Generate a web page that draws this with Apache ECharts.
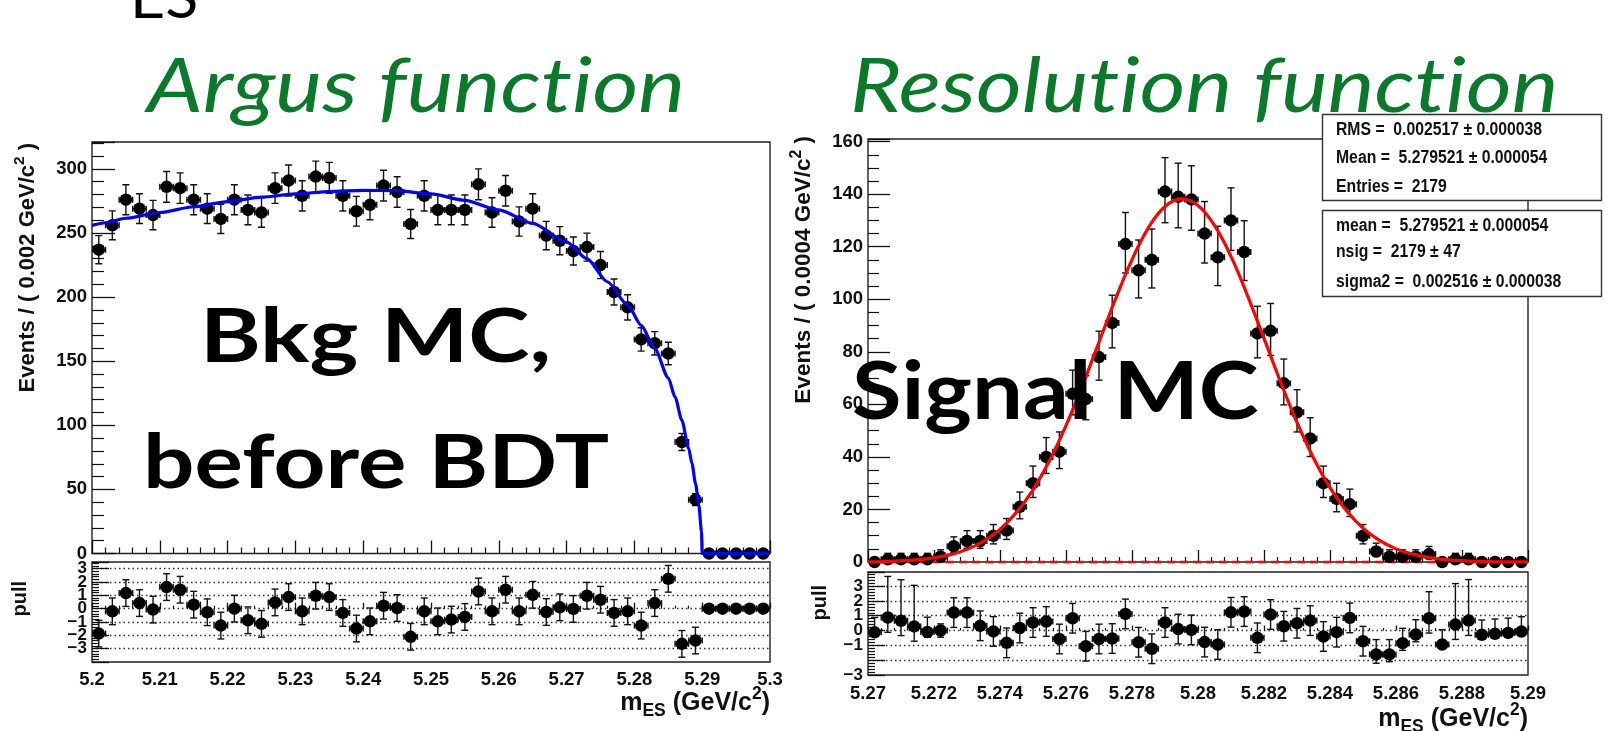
<!DOCTYPE html>
<html>
<head>
<meta charset="utf-8">
<script src="https://cdn.jsdelivr.net/npm/echarts@6/dist/echarts.min.js"></script>
<style>
  html, body { margin: 0; padding: 0; background: #fff; }
  #main { width: 1611px; height: 731px; }
</style>
</head>
<body>
<div id="main"></div>
<script>
// ---- background MC (Argus fit), 50 bins of 0.002 ----
const bkgX = [5.201,5.203,5.205,5.207,5.209,5.211,5.213,5.215,5.217,5.219,5.221,5.223,5.225,5.227,5.229,5.231,5.233,5.235,5.237,5.239,
  5.241,5.243,5.245,5.247,5.249,5.251,5.253,5.255,5.257,5.259,5.261,5.263,5.265,5.267,5.269,5.271,5.273,5.275,5.277,5.279,
  5.281,5.283,5.285,5.287,5.289,5.291,5.293,5.295,5.297,5.299]
const bkgY = [237,256,276,269,264,286,285,276,269,261,276,268,266,285,291,279,294,293,279,267,
  272,287,282,257,279,268,268,268,288,266,283,259,269,248,244,236,239,225,204,192,
  167,164,156,87,42,0,0,0,0,0]
const bkgErr = [11,11.3,11.7,11.6,11.5,12,11.9,11.7,11.6,11.4,11.7,11.6,11.5,11.9,12.1,11.8,12.1,12.1,11.8,11.6,
  11.7,12,11.9,11.3,11.8,11.6,11.6,11.6,12,11.5,11.9,11.4,11.6,11.1,11,10.9,10.9,10.6,10.1,9.8,
  9.1,9.1,8.8,6.6,4.6,0,0,0,0,0]
const bkgHalfBin = 0.001
const bkgPull = [-1.87,-0.2,1.17,0.42,-0.07,1.62,1.42,0.3,-0.27,-1.27,0,-0.87,-1.14,0.47,0.87,-0.2,0.97,0.87,-0.32,-1.49,
  -0.95,0.22,0.05,-2.11,-0.2,-0.95,-0.82,-0.62,1.29,-0.2,1.42,-0.2,1.04,-0.25,0.1,-0.02,0.97,0.67,-0.32,-0.2,
  -1.27,0.42,2.24,-2.64,-2.39,0,0,0,0,0]
const bkgPullErr = [1,1,1,1,1,1,1,1,1,1,1,1,1,1,1,1,1,1,1,1,1,1,1,1,1,1,1,1,1,1,1,1,1,1,1,1,1,1,1,1,1,1,1,1,1,0,0,0,0,0]
const bkgCurveX = [5.2,5.202,5.205,5.21,5.215,5.22,5.225,5.23,5.235,5.24,5.245,5.25,5.255,5.26,5.265,5.27,5.273,5.276,5.279,5.281,
  5.283,5.285,5.286,5.287,5.288,5.2885,5.289,5.2895,5.2899,5.29,5.3]
const bkgCurveY = [256,258,261.5,266,270.5,274.5,278,280.5,282.3,283.3,283,280.5,275.5,268,257.5,243,230,212,194,178,
  160,137,122,104,82,70,55,38,17,0,0]

// ---- signal MC (Gaussian fit), 50 bins of 0.0004 ----
const sigX = [5.2702,5.2706,5.2710,5.2714,5.2718,5.2722,5.2726,5.2730,5.2734,5.2738,5.2742,5.2746,5.2750,5.2754,5.2758,5.2762,5.2766,5.2770,5.2774,5.2778,
  5.2782,5.2786,5.2790,5.2794,5.2798,5.2802,5.2806,5.2810,5.2814,5.2818,5.2822,5.2826,5.2830,5.2834,5.2838,5.2842,5.2846,5.2850,5.2854,5.2858,
  5.2862,5.2866,5.2870,5.2874,5.2878,5.2882,5.2886,5.2890,5.2894,5.2898]
const sigY = [0,1,1,1,1,2,6,8,8,10,12,21,30,40,42,64,62,78,91,121,
  111,115,141,139,138,125,116,130,118,87,88,68,57,47,30,24,22,10,4,2,
  2,2,3,0,1,1,0,0,0,0]
const sigErrLo = [0,0.83,0.83,0.83,0.83,1.29,2.38,2.77,2.77,3.11,3.41,4.55,5.44,6.29,6.45,7.98,7.86,8.8,9.5,10.98,
  10.5,10.7,11.87,11.8,11.75,11.2,10.8,11.4,10.86,9.3,9.4,8.2,7.5,6.85,5.44,4.88,4.67,3.11,1.91,1.29,
  1.29,1.29,1.63,0,0.83,0.83,0,0,0,0]
const sigErrHi = [1.15,2.3,2.3,2.3,2.3,2.64,3.58,3.94,3.94,4.26,4.55,5.62,6.51,7.35,7.5,9.03,8.9,9.85,10.55,12.03,
  11.55,11.75,12.9,12.8,12.8,12.2,11.8,12.4,11.9,10.35,10.4,9.25,8.6,7.9,6.51,5.95,5.74,4.26,3.16,2.64,
  2.64,2.64,2.92,1.15,2.3,2.3,1.15,1.15,1.15,1.15]
const sigHalfBin = 0.0002
const sigPull = [-0.12,0.88,0.66,0.28,-0.1,0,1.21,1.21,0.32,-0.06,-0.83,0.17,0.54,0.61,-0.57,0.83,-1.06,-0.57,-0.54,1.12,
  -0.79,-1.23,0.54,0.1,0.04,-0.78,-0.94,1.23,1.28,-0.49,1.08,0.29,0.49,0.67,-0.4,-0.11,0.85,-0.72,-1.61,-1.61,
  -0.85,-0.27,0.83,-0.94,0.4,0.67,-0.29,-0.22,-0.16,-0.07]
const sigPullLo = [0,1,1,1,0.36,0.45,1,1,1,1,1,1,1,1,1,1,1,1,1,1,
  1,1,1,1,1,1,1,1,1,1,1,1,1,1,1,1,1,1,0.6,0.49,
  0.49,0.49,1,0,1,1,0,0,0,0]
const sigPullHi = [1,2.77,2.77,2.77,1,0.45,1,1,1,1,1,1,1,1,1,1,1,1,1,1,
  1,1,1,1,1,1,1,1,1,1,1,1,1,1,1,1,1,1,1,1,
  1,1,1.79,1,2.77,2.77,1,1,1,1]
const sigCurveX = [5.2700,5.2705,5.2710,5.2715,5.2720,5.2725,5.2730,5.2735,5.2740,5.2745,5.2750,5.2755,5.2760,5.2765,5.2770,5.2775,5.2780,5.2785,5.2790,5.2795,
  5.2800,5.2805,5.2810,5.2815,5.2820,5.2825,5.2830,5.2835,5.2840,5.2845,5.2850,5.2855,5.2860,5.2865,5.2870,5.2875,5.2880,5.2885,5.2890,5.2895,5.2900]
const sigCurveY = [0.1,0.2,0.5,0.9,1.6,2.8,4.8,7.9,12.4,18.9,27.5,38.5,51.9,67.2,83.7,100.1,115.1,127.3,135.3,138.2,
  135.7,128.1,116.3,101.4,85.1,68.6,53.1,39.6,28.3,19.5,12.9,8.2,5.0,3.0,1.7,0.9,0.5,0.2,0.1,0.05,0.02]

const statsLines = ['RMS =  0.002517 \u00b1 0.000038', 'Mean =  5.279521 \u00b1 0.000054', 'Entries =  2179']
const fitLines = ['mean =  5.279521 \u00b1 0.000054', 'nsig =  2179 \u00b1 47', 'sigma2 =  0.002516 \u00b1 0.000038']

const chart = echarts.init(document.getElementById('main'))

const INK = '#111'
const LABEL_FONT = 'Liberation Sans'
const GREEN = '#0a7a2a'

function renderErr(params, api) {
  const x = api.value(0), y = api.value(1)
  const lo = api.value(2), hi = api.value(3), hw = api.value(4)
  const c = api.coord([x, y])
  const t = api.coord([x, y + hi])
  const b = api.coord([x, y - lo])
  const l = api.coord([x - hw, y])
  const r = api.coord([x + hw, y])
  const st = { stroke: INK, lineWidth: 1.4 }
  const kids = []
  if (hi > 0 || lo > 0) {
    kids.push({ type: 'line', shape: { x1: c[0], y1: t[1], x2: c[0], y2: b[1] }, style: st })
    if (hi > 0) kids.push({ type: 'line', shape: { x1: c[0] - 3.5, y1: t[1], x2: c[0] + 3.5, y2: t[1] }, style: st })
    if (lo > 0) kids.push({ type: 'line', shape: { x1: c[0] - 3.5, y1: b[1], x2: c[0] + 3.5, y2: b[1] }, style: st })
  }
  kids.push({ type: 'line', shape: { x1: l[0], y1: c[1], x2: r[0], y2: c[1] }, style: st })
  kids.push({ type: 'line', shape: { x1: l[0], y1: c[1] - 3, x2: l[0], y2: c[1] + 3 }, style: st })
  kids.push({ type: 'line', shape: { x1: r[0], y1: c[1] - 3, x2: r[0], y2: c[1] + 3 }, style: st })
  return { type: 'group', children: kids }
}

function xFmt(v) { return String(parseFloat(v.toFixed(4))) }
function pullFmt(v) {
  const r = Math.round(v)
  if (Math.abs(v - r) > 1e-6 || r < -3 || r > 3) return ''
  return r < 0 ? '\u2212' + (-r) : String(r)
}

function xAxis(gridIndex, min, max, interval, tickLen, minorLen, showLabel, margin) {
  return {
    type: 'value', gridIndex, min, max, interval,
    axisLine: { show: false },
    axisTick: { show: true, inside: true, length: tickLen, lineStyle: { color: INK, width: 1.3 } },
    minorTick: { show: true, splitNumber: 5, length: minorLen, lineStyle: { color: INK, width: 1.2 } },
    splitLine: { show: false },
    axisLabel: { show: showLabel, margin, formatter: xFmt, showMinLabel: true, showMaxLabel: true,
      color: INK, fontSize: 18.5, fontWeight: 'bold', fontFamily: LABEL_FONT }
  }
}
function yAxis(gridIndex, min, max, interval, split, tickLen, minorLen, fmt, grid) {
  return {
    type: 'value', gridIndex, min, max, interval,
    axisLine: { show: false },
    axisTick: { show: true, inside: true, length: tickLen, lineStyle: { color: INK, width: 1.3 } },
    minorTick: { show: true, splitNumber: split, length: minorLen, lineStyle: { color: INK, width: 1.2 } },
    splitLine: grid ? { show: true, showMinLine: false, showMaxLine: false, lineStyle: { color: '#333', width: 1.3, type: [1.5, 3] } } : { show: false },
    axisLabel: { margin: 5, formatter: fmt, showMinLabel: true, showMaxLabel: true,
      color: INK, fontSize: grid ? 17 : 18.5, fontWeight: 'bold', fontFamily: LABEL_FONT }
  }
}

const frame = { show: true, borderColor: '#222', borderWidth: 1.4, backgroundColor: 'transparent', outerBoundsMode: 'none' }

function errSeries(xi, yi, rows) {
  return { type: 'custom', xAxisIndex: xi, yAxisIndex: yi, renderItem: renderErr, data: rows, clip: true, z: 2, silent: true }
}
function dotSeries(xi, yi, pts) {
  return { type: 'scatter', xAxisIndex: xi, yAxisIndex: yi, data: pts, symbol: 'circle', symbolSize: 12.5,
    itemStyle: { color: '#000', opacity: 1 }, z: 4, silent: true }
}

function richText(size) {
  return {
    a: { fontSize: size, fontWeight: 'bold', fontFamily: LABEL_FONT, fill: INK, lineHeight: size * 1.4 },
    s: { fontSize: size * 0.7, fontWeight: 'bold', fontFamily: LABEL_FONT, fill: INK, verticalAlign: 'top' },
    b: { fontSize: size * 0.7, fontWeight: 'bold', fontFamily: LABEL_FONT, fill: INK, verticalAlign: 'bottom' }
  }
}

function bigText(t, x, y, font, fill, sx) {
  return { type: 'text', x, y, scaleX: sx, z: 100,
    style: { text: t, font, fill, textAlign: 'left', textVerticalAlign: 'middle' } }
}

const graphics = [
  bigText('ES', 130, -1, '58px Lato', '#000', 1.05),
  bigText('Argus func\u200ct\u200cion', 147, 88, 'italic 75px Lato', GREEN, 1.18),
  bigText('Resolut\u200cion func\u200ct\u200cion', 850, 88, 'italic 75px Lato', GREEN, 1.175),
  bigText('Bkg MC,', 200, 338, 'bold 74px Lato', '#000', 1.25),
  bigText('before BDT', 143, 464, 'bold 74px Lato', '#000', 1.225),
  bigText('Signal MC', 852, 393, 'bold 80px Lato', '#000', 1.13),
  { type: 'rect', z: 90, shape: { x: 1322.5, y: 114.5, width: 279, height: 86 }, style: { fill: '#fff', stroke: '#333', lineWidth: 1.4 } },
  { type: 'rect', z: 90, shape: { x: 1322.5, y: 210.5, width: 279, height: 86 }, style: { fill: '#fff', stroke: '#333', lineWidth: 1.4 } },
  // axis titles
  { type: 'text', x: 28, y: 143, rotation: Math.PI / 2, z: 100, style: { text: '{a|Events / ( 0.002 GeV/c}{s|2}{a| )}', rich: richText(22), textAlign: 'right', textVerticalAlign: 'middle' } },
  { type: 'text', x: 804, y: 136, rotation: Math.PI / 2, z: 100, style: { text: '{a|Events / ( 0.0004 GeV/c}{s|2}{a| )}', rich: richText(22.5), textAlign: 'right', textVerticalAlign: 'middle' } },
  { type: 'text', x: 20, y: 581, rotation: Math.PI / 2, z: 100, style: { text: 'pull', font: 'bold 20px "Liberation Sans"', fill: INK, textAlign: 'right', textVerticalAlign: 'middle' } },
  { type: 'text', x: 820, y: 585, rotation: Math.PI / 2, z: 100, style: { text: 'pull', font: 'bold 20px "Liberation Sans"', fill: INK, textAlign: 'right', textVerticalAlign: 'middle' } },
  { type: 'text', x: 770, y: 703, z: 100, style: { text: '{a|m}{b|ES}{a| (GeV/c}{s|2}{a|)}', rich: richText(25), textAlign: 'right', textVerticalAlign: 'middle' } },
  { type: 'text', x: 1528, y: 719, z: 100, style: { text: '{a|m}{b|ES}{a| (GeV/c}{s|2}{a|)}', rich: richText(25), textAlign: 'right', textVerticalAlign: 'middle' } }
]
const statY = [130, 158.3, 186.7]
statsLines.forEach((t, i) => graphics.push({ type: 'text', x: 1336, y: statY[i], scaleX: 0.9, z: 95,
  style: { text: t, font: 'bold 17.5px "Liberation Sans"', fill: INK, textAlign: 'left', textVerticalAlign: 'middle' } }))
const fitY = [225.7, 252.3, 281.7]
fitLines.forEach((t, i) => graphics.push({ type: 'text', x: 1336, y: fitY[i], scaleX: 0.9, z: 95,
  style: { text: t, font: 'bold 17.5px "Liberation Sans"', fill: INK, textAlign: 'left', textVerticalAlign: 'middle' } }))

const option = {
  animation: false,
  backgroundColor: '#fff',
  grid: [
    Object.assign({ left: 92, top: 142, width: 678, height: 411.5 }, frame),
    Object.assign({ left: 92, top: 562, width: 678, height: 100 }, frame),
    Object.assign({ left: 868, top: 139, width: 660, height: 423 }, frame),
    Object.assign({ left: 868, top: 572, width: 660, height: 103 }, frame)
  ],
  xAxis: [
    xAxis(0, 5.2, 5.3, 0.01, 13, 6, false, 7),
    xAxis(1, 5.2, 5.3, 0.01, 6, 3, true, 8),
    xAxis(2, 5.27, 5.29, 0.002, 12, 5, false, 7),
    xAxis(3, 5.27, 5.29, 0.002, 5, 2.5, true, 9)
  ],
  yAxis: [
    yAxis(0, 0, 321, 50, 5, 23, 12, v => (Math.abs(v % 50) < 1e-6 ? String(Math.round(v)) : ''), false),
    yAxis(1, -4, 3.5, 1, 5, 17, 7, pullFmt, true),
    yAxis(2, 0, 161, 20, 4, 22, 11, v => (Math.abs(v % 20) < 1e-6 ? String(Math.round(v)) : ''), false),
    yAxis(3, -3, 3.95, 1, 5, 17, 7, pullFmt, true)
  ],
  graphic: graphics,
  series: [
    errSeries(0, 0, bkgX.map((x, i) => [x, bkgY[i], bkgErr[i], bkgErr[i], bkgHalfBin])),
    dotSeries(0, 0, bkgX.map((x, i) => [x, bkgY[i]])),
    { type: 'line', xAxisIndex: 0, yAxisIndex: 0, data: bkgCurveX.map((x, i) => [x, bkgCurveY[i]]),
      showSymbol: false, smooth: 0.25, smoothMonotone: 'x', clip: false, z: 5, silent: true,
      lineStyle: { color: '#0000ff', width: 3.2 } },
    errSeries(1, 1, bkgX.map((x, i) => [x, bkgPull[i], bkgPullErr[i], bkgPullErr[i], bkgHalfBin])),
    dotSeries(1, 1, bkgX.map((x, i) => [x, bkgPull[i]])),

    { type: 'line', xAxisIndex: 2, yAxisIndex: 2, data: [[5.27, 0], [5.29, 0]], showSymbol: false, clip: false, z: 3, silent: true,
      lineStyle: { color: '#ff0000', width: 2.5, type: [8, 5] } },
    errSeries(2, 2, sigX.map((x, i) => [x, sigY[i], sigErrLo[i], sigErrHi[i], sigHalfBin])),
    dotSeries(2, 2, sigX.map((x, i) => [x, sigY[i]])),
    { type: 'line', xAxisIndex: 2, yAxisIndex: 2, data: sigCurveX.map((x, i) => [x, sigCurveY[i]]),
      showSymbol: false, smooth: 0.4, clip: false, z: 5, silent: true,
      lineStyle: { color: '#ff0000', width: 3.2 } },
    errSeries(3, 3, sigX.map((x, i) => [x, sigPull[i], sigPullLo[i], sigPullHi[i], sigHalfBin])),
    dotSeries(3, 3, sigX.map((x, i) => [x, sigPull[i]]))
  ]
}
chart.setOption(option)
</script>
</body>
</html>
